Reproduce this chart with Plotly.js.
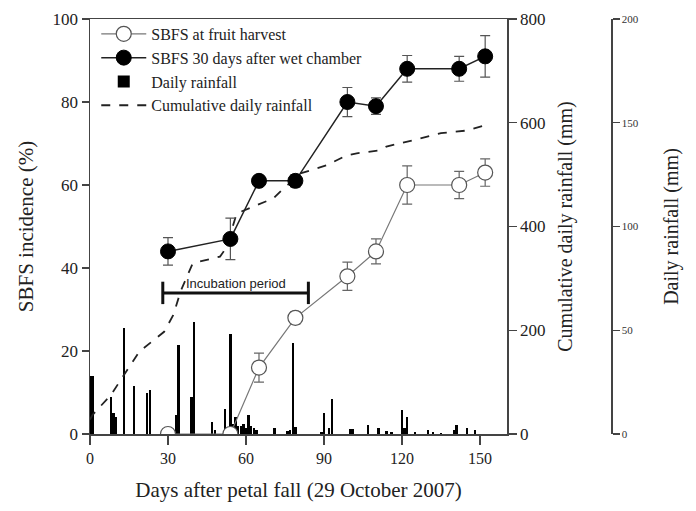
<!DOCTYPE html>
<html>
<head>
<meta charset="utf-8">
<script src="https://cdn.plot.ly/plotly-3.0.1.min.js"></script>
<style>html,body{margin:0;padding:0;background:#fff;}#chart{width:696px;height:511px;}</style>
</head>
<body>
<div id="chart"></div>
<script>
// SBFS incidence (%)
const sampleDays = [30, 54, 65, 79, 99, 110, 122, 142, 152];
const harvestSBFS = [0, 0, 16, 28, 38, 44, 60, 60, 63];
const harvestErr = [0, 0, 3.5, 1.5, 3.4, 3, 4.6, 3.3, 3.3];
const chamberSBFS = [44, 47, 61, 61, 80, 79, 88, 88, 91];
const chamberErr = [3.3, 5, 0.8, 1.5, 3.5, 2, 3.2, 3, 5];

// Daily rainfall (mm)
const rainDays = [0, 1, 8, 9, 10, 13, 17, 22, 23, 33, 34, 39, 40, 47, 48, 52, 54, 55, 56, 57, 58, 59, 60, 61, 62, 63, 64, 71, 76, 77, 78, 79, 89, 90, 92, 93, 100, 101, 107, 111, 114, 116, 120, 121, 122, 125, 130, 132, 135, 140, 141, 145, 148];
const rainMm = [28, 28, 18, 10, 8, 51, 23, 20, 21, 9, 43, 18, 54, 6, 2, 12, 48, 5, 8, 4, 4, 5, 3, 9, 4, 3, 2, 3, 1.5, 2, 44, 3.5, 1, 10, 3, 17, 2.4, 2.4, 4.3, 3, 1.5, 0.8, 11.6, 2.7, 8.3, 1, 2, 1, 0.6, 2, 4.3, 2.7, 1.7];

// Cumulative daily rainfall (mm)
const cumDays = [0, 1, 8, 13.5, 19, 28.5, 32, 35, 39.5, 50, 51.3, 54.5, 56.4, 64, 70.5, 74.4, 78.2, 79.5, 86, 91, 98.7, 102.6, 111.5, 114, 124, 135, 145, 152];
const cumMm = [28, 37, 75, 117, 159, 197, 229, 277, 329, 342, 351, 393, 425, 441, 454, 473, 489, 500, 510, 518, 537, 541, 547, 554, 566, 580, 585, 595];

// Incubation period (days)
const incubation = [28, 84];
const incubationLevel = 34;
const incubationLabel = "Incubation period";

const xTicks = [0, 30, 60, 90, 120, 150];
const sbfsTicks = [0, 20, 40, 60, 80, 100];
const cumTicks = [0, 200, 400, 600, 800];
const dailyTicks = [0, 50, 100, 150, 200];

const serif = "Liberation Serif, Times New Roman, serif";
const axisCol = "#444";

const traces = [
  {
    type: "bar", x: rainDays, y: rainMm, name: "Daily rainfall",
    xaxis: "x", yaxis: "y", width: 0.9,
    marker: {color: "#000", line: {width: 0}}, legendrank: 3
  },
  {
    type: "scatter", mode: "lines", x: cumDays, y: cumMm, name: "Cumulative daily rainfall",
    xaxis: "x", yaxis: "y2", line: {color: "#222", width: 1.8, dash: "dash"}, legendrank: 4
  },
  {
    type: "scatter", mode: "lines+markers", x: incubation, y: [incubationLevel, incubationLevel],
    xaxis: "x", yaxis: "y3", showlegend: false, hoverinfo: "skip",
    line: {color: "#111", width: 3},
    marker: {symbol: "line-ns-open", size: 16, line: {color: "#111", width: 3}}
  },
  {
    type: "scatter", mode: "lines+markers", x: sampleDays, y: harvestSBFS, name: "SBFS at fruit harvest",
    xaxis: "x", yaxis: "y3",
    error_y: {type: "data", array: harvestErr, visible: true, color: "#666", thickness: 1.2, width: 5},
    line: {color: "#777", width: 1.2},
    marker: {symbol: "circle", size: 15, color: "#fff", line: {color: "#555", width: 1.2}}, legendrank: 1
  },
  {
    type: "scatter", mode: "lines+markers", x: sampleDays, y: chamberSBFS, name: "SBFS 30 days after wet chamber",
    xaxis: "x", yaxis: "y3",
    error_y: {type: "data", array: chamberErr, visible: true, color: "#555", thickness: 1.2, width: 5},
    line: {color: "#222", width: 1.5},
    marker: {symbol: "circle", size: 15, color: "#000", line: {color: "#000", width: 1}}, legendrank: 2
  }
];

const layout = {
  width: 696, height: 511,
  margin: {l: 90, r: 85, t: 19, b: 77},
  paper_bgcolor: "#fff", plot_bgcolor: "rgba(0,0,0,0)",
  font: {family: serif, color: "#222", size: 16},
  showlegend: true,
  legend: {
    x: 0.012, y: 1.005, xanchor: "left", yanchor: "top",
    bgcolor: "rgba(0,0,0,0)", font: {family: serif, size: 16, color: "#222"},
    itemwidth: 45, tracegroupgap: 0
  },
  bargap: 0,
  xaxis: {
    domain: [0, 0.8004], range: [0, 160.4], tickvals: xTicks,
    showline: true, linecolor: axisCol, linewidth: 1.5, mirror: true,
    ticks: "outside", ticklen: 9, tickcolor: axisCol, tickwidth: 1.2,
    showgrid: false, zeroline: false,
    tickfont: {family: serif, size: 16, color: "#222"},
    title: {text: "Days after petal fall (29 October 2007)", font: {family: serif, size: 21, color: "#222"}, standoff: 16}
  },
  yaxis: {
    range: [0, 200], tickvals: dailyTicks, anchor: "free", position: 1, side: "right",
    showline: true, linecolor: axisCol, linewidth: 1.5,
    ticks: "outside", ticklen: 7, tickcolor: axisCol, tickwidth: 1.2,
    showgrid: false, zeroline: false,
    tickfont: {family: serif, size: 11, color: "#333"},
    title: {text: "Daily rainfall (mm)", font: {family: serif, size: 20, color: "#222"}, standoff: 26}
  },
  yaxis2: {
    range: [0, 800], tickvals: cumTicks, overlaying: "y", anchor: "x", side: "right",
    showline: true, linecolor: axisCol, linewidth: 1.5,
    ticks: "outside", ticklen: 8, tickcolor: axisCol, tickwidth: 1.2,
    showgrid: false, zeroline: false,
    tickfont: {family: serif, size: 17, color: "#222"},
    title: {text: "Cumulative daily rainfall (mm)", font: {family: serif, size: 20, color: "#222"}, standoff: 13}
  },
  yaxis3: {
    range: [0, 100], tickvals: sbfsTicks, overlaying: "y", anchor: "x", side: "left",
    showline: true, linecolor: axisCol, linewidth: 1.5,
    ticks: "outside", ticklen: 7, tickcolor: axisCol, tickwidth: 1.2,
    showgrid: false, zeroline: false,
    tickfont: {family: serif, size: 17, color: "#222"},
    title: {text: "SBFS incidence (%)", font: {family: serif, size: 21, color: "#222"}, standoff: 13}
  },
  yaxis4: {
    range: [0, 100], tickvals: sbfsTicks, overlaying: "y", anchor: "x", side: "left",
    showline: false, ticks: "inside", ticklen: 6, tickcolor: axisCol, tickwidth: 1.2,
    showticklabels: false, showgrid: false, zeroline: false
  },
  yaxis5: {
    range: [0, 800], tickvals: cumTicks, overlaying: "y", anchor: "x", side: "right",
    showline: false, ticks: "inside", ticklen: 8, tickcolor: axisCol, tickwidth: 1.2,
    showticklabels: false, showgrid: false, zeroline: false
  },
  yaxis6: {
    range: [0, 200], tickvals: dailyTicks, overlaying: "y", anchor: "free", position: 1, side: "right",
    showline: false, ticks: "inside", ticklen: 8, tickcolor: axisCol, tickwidth: 1.2,
    showticklabels: false, showgrid: false, zeroline: false
  },
  annotations: [
    {
      xref: "x", yref: "y3", x: (incubation[0] + incubation[1]) / 2, y: incubationLevel + 2.2,
      text: incubationLabel, showarrow: false, yanchor: "middle",
      font: {family: "Liberation Sans, Arial, sans-serif", size: 13, color: "#222"}
    }
  ]
};

Plotly.newPlot("chart", traces, layout, {staticPlot: true, displayModeBar: false});
</script>
</body>
</html>
